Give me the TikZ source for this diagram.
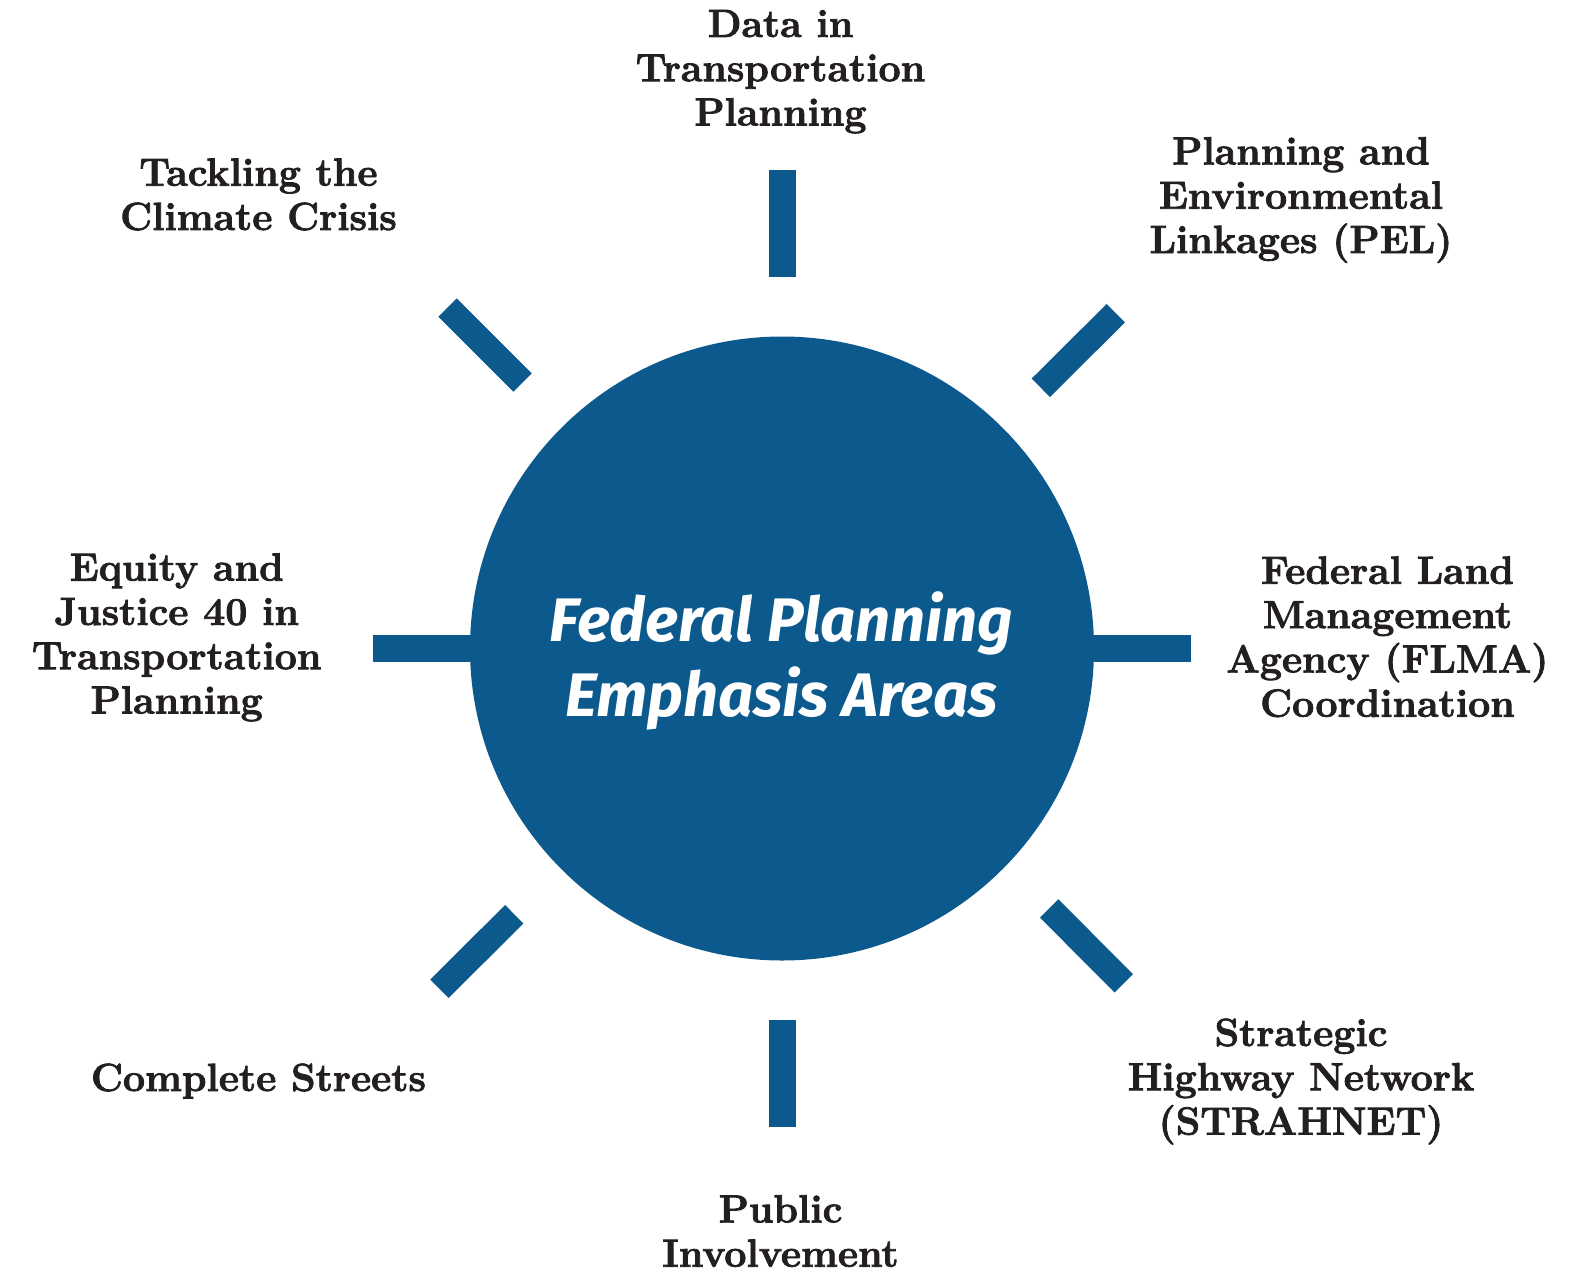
\documentclass[tikz,border=0pt]{standalone}
\usepackage{fontspec}
\newfontfamily\hubfont{Fira Sans}
\newfontfamily\lblfont{Latin Modern Roman}[BoldFeatures={FakeBold=2}]
\definecolor{fpblue}{HTML}{0C5A8D}
\definecolor{fptext}{HTML}{231F20}
\begin{document}
\begin{tikzpicture}[x=1pt,y=-1pt,
  ray/.style={draw=fpblue,line width=27pt,line cap=butt},
  lbl/.style={anchor=base,align=center,text=fptext,inner sep=0pt,
    font=\lblfont\fontsize{39.3}{44.3}\selectfont\bfseries},
  hubtext/.style={anchor=base,align=center,text=white,inner sep=0pt,
    font=\hubfont\fontsize{61.5}{75}\selectfont\bfseries\itshape}]
\useasboundingbox (0,0) rectangle (1577,1274);
% rays
\draw[ray] (782,170) -- (782,277);
\draw[ray] (782,1020) -- (782,1127);
\draw[ray] (372.7,648.5) -- (480,648.5);
\draw[ray] (1083,648.5) -- (1190.7,648.5);
\draw[ray,line width=26pt] (447.5,307.5) -- (522.5,382.5);
\draw[ray,line width=26pt] (1115.8,313.2) -- (1040.8,387.8);
\draw[ray,line width=26pt] (514.2,914.2) -- (439.5,988.8);
\draw[ray,line width=26pt] (1049.2,908.5) -- (1123.8,983.3);
% hub
\node[circle,fill=fpblue,minimum size=624pt,inner sep=0pt] (hub) at (782,648.5) {};
\node[hubtext] (title) at (781.5,716.7) {Federal Planning\\Emphasis Areas};
% labels (anchored at the baseline of their last line)
\node[lbl] (data) at (780.5,125.5) {Data in\\Transportation\\Planning};
\node[lbl] (climate) at (258.5,230) {Tackling the\\Climate Crisis};
\node[lbl] (pel) at (1301,253) {Planning and\\Environmental\\Linkages (PEL)};
\node[lbl] (equity) at (176.7,713.5) {Equity and\\Justice 40 in\\Transportation\\Planning};
\node[lbl] (flma) at (1387.5,716.7) {Federal Land\\Management\\Agency (FLMA)\\Coordination};
\node[lbl] (streets) at (258.5,1091) {Complete Streets};
\node[lbl] (strahnet) at (1301,1134.6) {Strategic\\Highway Network\\(STRAHNET)};
\node[lbl] (public) at (780.5,1266.7) {Public\\Involvement};
\end{tikzpicture}
\end{document}
